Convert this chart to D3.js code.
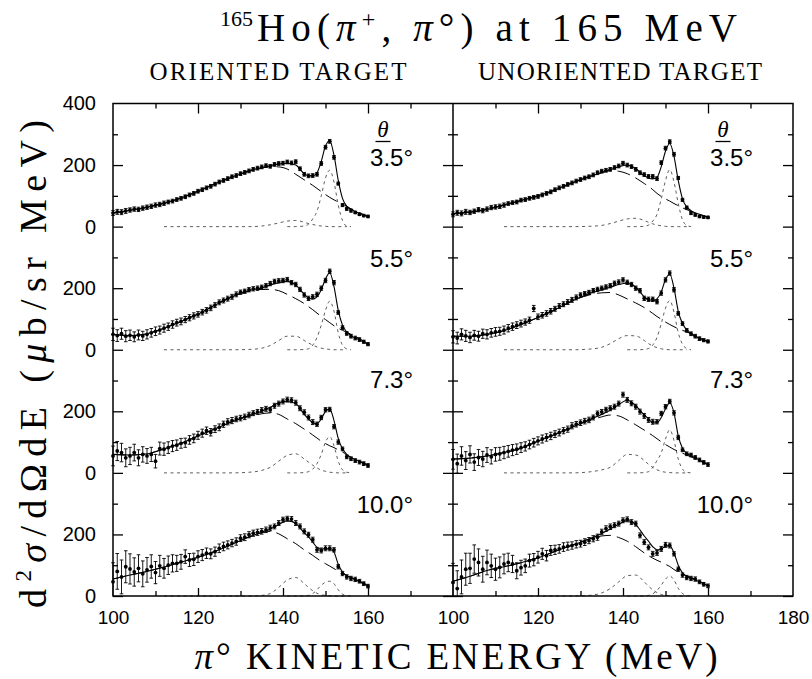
<!DOCTYPE html>
<html><head><meta charset="utf-8">
<script src="https://cdn.jsdelivr.net/npm/d3@7"></script>
<style>body{margin:0;background:#fff}</style>
</head><body>
<svg id="c" width="812" height="679" xmlns="http://www.w3.org/2000/svg"></svg>
<script>
// ---------- data ----------
const energies = [100,101,102,103,104,105,106,107,108,109,110,111,112,113,114,115,116,117,118,119,120,121,122,123,124,125,126,127,128,129,130,131,132,133,134,135,136,137,138,139,140,141,142,143,144,145,146,147,148,149,150,151,152,153,154,155,156,157,158,159,160];
const knotE = [100,104,108,112,116,120,124,128,132,135,137,139,141,143,145,146,147,148,149,150,151,152,153,154,155,156,158,160];
const angleLabels = ["3.5°","5.5°","7.3°","10.0°"];
const columnTitles = ["ORIENTED TARGET","UNORIENTED TARGET"];
const xTickMajor = [100,120,140,160,180];
const xTickMinor = [110,130,150,170];
const yTickMajor = [0,200];
const yTickMinor = [100,300];

// errors per angle (shared by both targets)
const err35 = [8,8,8,8,7,7,7,7,7,7, 7,7,7,6,6,6,6,6,6,6, 6,6,6,6,6,6,6,6,6,6, 6,6,6,6,6,6,6,6,6,6, 6,6,6,6,6,6,6,6,6,6, 6,6,6,5,5,5,5,4,4,4,4];
const err55 = [20,19,18,18,17,16,16,15,15,14, 14,13,13,12,12,11,11,10,10,10, 9,9,9,9,8,8,8,8,8,8, 7,7,7,7,7,7,7,7,7,7, 7,7,7,7,7,7,7,7,7,7, 7,7,7,6,6,6,6,6,6,5,5];
const err73 = [32,31,30,29,28,27,26,25,24,23, 22,21,20,19,18,17,16,15,14,14, 13,13,12,12,11,11,10,10,10,9, 9,9,9,8,8,8,8,8,8,8, 8,8,8,8,8,8,8,8,7,7, 7,7,7,7,6,6,6,6,6,6,6];
const err10 = [62,58,55,52,49,46,44,42,40,38, 36,34,32,30,28,26,24,22,21,20, 19,18,17,16,15,14,14,13,12,12, 11,11,10,10,10,9,9,9,8,8, 8,8,8,8,8,8,8,8,8,8, 8,8,7,7,7,7,7,7,6,6,6];

// oriented target
const dataOr35 = [44,48,47,51,54,57,56,60,63,66, 70,72,76,80,83,88,92,97,103,108, 115,120,126,131,138,145,150,156,162,166, 172,176,181,186,190,194,198,196,202,205, 206,210,207,211,188,170,165,166,170,205, 258,277,225,140,70,58,52,46,40,36,33];
const fitOr35   = [44,53,63,76,93,115,139,161,181,192,198,203,206,200,172,165,165,175,212,262,278,232,150,92,66,56,43,33];
const broadOr35 = [44,53,63,76,93,115,139,161,180,190,195,194,187,170,152,143,134,124,114,104,95,87,80,73,66,58,45,33];
const g1Or35    = [null,null,null,0,0,0,0,0,0,2,6,12,18,20,14,10,7,4,2,1,0,0,0,0,0,null,null,null];
const g2Or35    = [null,null,null,null,null,null,null,null,null,null,null,null,0,0,2,8,25,50,100,158,183,145,70,20,2,0,null,null];

const dataOr55 = [50,46,52,44,47,42,48,45,50,55, 60,64,70,75,82,88,92,98,104,110, 115,122,128,136,145,154,160,166,172,180, 187,190,195,198,200,203,208,215,222,224, 225,228,218,212,196,178,167,172,180,200, 225,255,218,121,72,53,44,38,33,26,18];
const fitOr55   = [50,46,52,70,92,116,145,172,192,201,210,218,222,210,180,168,165,172,195,230,250,205,128,80,58,46,32,18];
const broadOr55 = [50,46,52,70,92,116,145,172,190,196,196,192,180,166,150,140,130,119,108,98,88,78,70,63,57,50,36,18];
const g1Or55    = [null,null,null,0,0,0,0,0,1,5,14,30,44,44,30,22,15,9,5,3,1,0,0,0,0,null,null,null];
const g2Or55    = [null,null,null,null,null,null,null,null,null,null,null,null,0,0,1,3,15,40,80,128,158,125,55,15,3,0,null,null];

const dataOr73 = [55,71,66,49,55,66,49,60,55,60, 38,79,77,82,87,90,96,98,107,112, 122,129,137,132,142,148,158,166,170,175, 178,182,188,194,198,204,208,205,218,225, 232,238,236,228,210,197,180,165,158,180, 205,206,150,100,78,52,46,40,35,30,24];
const fitOr73   = [60,58,62,78,96,120,143,166,186,200,213,228,232,225,190,175,163,160,175,200,207,170,112,78,60,50,38,25];
const broadOr73 = [60,58,62,78,96,120,143,166,184,192,195,190,175,160,142,133,123,113,103,95,88,82,75,68,58,50,38,25];
const g1Or73    = [null,null,null,0,0,0,0,0,2,8,18,38,57,62,45,35,25,16,9,5,2,1,0,0,0,null,null,null];
const g2Or73    = [null,null,null,null,null,null,null,null,null,null,null,null,0,0,1,4,12,30,60,100,118,88,38,10,2,0,null,null];

const dataOr10 = [46,80,62,95,88,78,90,72,85,96, 76,98,90,100,106,106,111,128,117,119, 128,133,139,137,144,155,161,166,172,177, 188,191,199,204,207,210,215,221,226,237, 248,251,250,237,226,210,199,183,150,148, 155,155,150,95,73,62,57,54,48,40,32];
const fitOr10   = [55,68,80,94,110,126,145,168,192,207,218,232,245,236,205,192,175,158,152,153,152,142,103,78,66,60,47,33];
const broadOr10 = [55,68,80,94,110,126,145,168,192,205,210,202,186,170,150,141,132,122,113,105,97,89,81,74,66,60,46,33];
const g1Or10    = [null,null,null,0,0,0,0,0,0,2,8,28,52,60,40,28,17,9,4,2,1,0,0,0,0,null,null,null];
const g2Or10    = [null,null,null,null,null,null,null,null,null,null,null,null,0,0,0,2,8,20,35,45,48,40,20,6,1,0,null,null];

// unoriented target
const dataUn35 = [40,45,43,48,46,50,55,52,57,62, 64,66,70,75,78,80,86,88,92,95, 98,103,108,113,120,126,131,137,142,148, 153,158,162,168,175,180,183,186,192,197, 206,200,195,186,175,169,163,163,156,208, 255,276,235,158,87,62,44,38,33,31,30];
const fitUn35   = [42,47,56,70,85,100,119,142,162,176,185,195,200,188,165,158,155,160,195,245,270,228,150,90,64,52,40,30];
const broadUn35 = [42,47,56,70,85,100,119,142,162,175,182,180,172,158,140,131,120,108,98,90,83,75,68,61,55,50,40,30];
const g1Un35    = [null,null,null,0,0,0,0,0,1,4,10,18,25,27,20,14,9,5,3,1,0,0,0,0,0,null,null,null];
const g2Un35    = [null,null,null,null,null,null,null,null,null,null,null,null,0,0,1,5,18,40,90,150,185,145,75,22,4,0,null,null];

const dataUn55 = [42,38,50,45,40,47,44,52,50,55, 58,60,64,70,75,80,85,90,96,134, 107,112,118,125,133,142,148,155,162,170, 178,182,186,192,196,200,204,208,216,220, 227,219,212,200,192,167,164,164,156,184, 227,249,195,118,85,63,52,44,36,31,27];
const fitUn55   = [44,44,50,62,82,105,130,158,182,195,203,212,216,203,172,162,158,165,188,228,246,200,125,85,64,52,37,27];
const broadUn55 = [44,44,50,62,82,105,130,158,178,185,186,178,165,152,137,128,118,108,99,90,82,75,68,63,58,52,38,27];
const g1Un55    = [null,null,null,0,0,0,0,0,2,8,20,36,46,45,30,20,12,7,3,1,0,0,0,0,0,null,null,null];
const g2Un55    = [null,null,null,null,null,null,null,null,null,null,null,null,0,0,1,4,15,40,85,135,160,122,55,18,4,0,null,null];

const dataUn73 = [44,30,55,40,60,35,50,45,58,52, 60,62,66,70,74,77,82,86,92,98, 104,110,115,120,126,131,137,142,153,158, 163,168,172,180,193,198,205,210,215,225, 254,237,226,215,199,185,172,166,166,193, 215,232,195,115,75,62,58,50,42,34,27];
const fitUn73   = [45,48,55,66,80,103,125,148,172,190,203,222,236,218,188,176,162,163,180,208,228,195,120,80,64,56,42,27];
const broadUn73 = [45,48,55,66,80,103,125,148,170,182,188,185,172,156,139,130,121,111,101,92,84,76,70,64,58,52,40,27];
const g1Un73    = [null,null,null,0,0,0,0,0,3,10,18,40,60,58,40,28,18,10,5,2,1,0,0,0,0,null,null,null];
const g2Un73    = [null,null,null,null,null,null,null,null,null,null,null,null,0,0,1,4,18,40,65,110,140,105,45,12,2,0,null,null];

const dataUn10 = [44,24,62,87,90,120,109,87,109,98, 87,93,104,109,104,82,92,98,115,118, 126,137,131,148,150,153,159,162,164,168, 170,175,180,186,191,208,219,225,230,235, 246,249,240,235,197,175,158,137,140,153, 166,164,137,87,68,60,57,55,46,38,33];
const fitUn10   = [48,64,83,95,108,124,145,165,185,203,218,233,245,232,195,178,160,150,152,162,163,140,100,75,64,58,46,33];
const broadUn10 = [48,64,83,95,108,124,145,165,185,195,197,190,178,160,140,131,123,116,110,103,96,86,78,71,65,60,47,33];
const g1Un10    = [null,null,null,0,0,0,0,0,2,10,24,46,66,68,46,32,20,11,5,2,1,0,0,0,0,null,null,null];
const g2Un10    = [null,null,null,null,null,null,null,null,null,null,null,null,0,0,0,2,7,18,35,55,65,52,25,8,2,0,null,null];

// ---------- layout ----------
const F = {left:113, mid:453, right:793, top:103.5, bottom:596};
const rowH = (F.bottom - F.top) / 4;
const SERIF = "'Liberation Serif','DejaVu Serif',serif";
const SANS = "'Liberation Sans',Arial,sans-serif";

const panels = [
  {col:0,row:0,data:dataOr35,err:err35,fit:fitOr35,broad:broadOr35,g1:g1Or35,g2:g2Or35},
  {col:0,row:1,data:dataOr55,err:err55,fit:fitOr55,broad:broadOr55,g1:g1Or55,g2:g2Or55},
  {col:0,row:2,data:dataOr73,err:err73,fit:fitOr73,broad:broadOr73,g1:g1Or73,g2:g2Or73},
  {col:0,row:3,data:dataOr10,err:err10,fit:fitOr10,broad:broadOr10,g1:g1Or10,g2:g2Or10},
  {col:1,row:0,data:dataUn35,err:err35,fit:fitUn35,broad:broadUn35,g1:g1Un35,g2:g2Un35},
  {col:1,row:1,data:dataUn55,err:err55,fit:fitUn55,broad:broadUn55,g1:g1Un55,g2:g2Un55},
  {col:1,row:2,data:dataUn73,err:err73,fit:fitUn73,broad:broadUn73,g1:g1Un73,g2:g2Un73},
  {col:1,row:3,data:dataUn10,err:err10,fit:fitUn10,broad:broadUn10,g1:g1Un10,g2:g2Un10}
];

const svg = d3.select("#c");
const xScales = [
  d3.scaleLinear().domain([100,180]).range([F.left, F.mid]),
  d3.scaleLinear().domain([100,180]).range([F.mid, F.right])
];
const yScale = r => d3.scaleLinear().domain([0,400]).range([F.top + (r+1)*rowH, F.top + r*rowH]);

// ---------- curves and data ----------
panels.forEach(p => {
  const x = xScales[p.col], y = yScale(p.row);
  const g = svg.append("g");
  const line = d3.line().defined(d => d[1] != null)
    .x(d => x(d[0])).y(d => y(d[1])).curve(d3.curveMonotoneX);
  const pairs = arr => knotE.map((e,i) => [e, arr[i]]);
  [p.g1, p.g2].forEach(arr => {
    g.append("path").attr("d", line(pairs(arr)))
      .attr("fill","none").attr("stroke","#333").attr("stroke-width",0.8)
      .attr("stroke-dasharray","3,3.5");
  });
  g.append("path").attr("d", line(pairs(p.broad)))
    .attr("fill","none").attr("stroke","#000").attr("stroke-width",1)
    .attr("stroke-dasharray","13,6");
  g.append("path").attr("d", line(pairs(p.fit)))
    .attr("fill","none").attr("stroke","#000").attr("stroke-width",1.1);
  const pts = energies.map((e,i) => ({e, v:p.data[i], s:p.err[i]}));
  const eb = g.append("g").attr("stroke","#000").attr("stroke-width",0.9);
  eb.selectAll("line.v").data(pts).join("line")
    .attr("x1", d => x(d.e)).attr("x2", d => x(d.e))
    .attr("y1", d => Math.min(y(d.v - d.s), F.bottom)).attr("y2", d => y(d.v + d.s));
  eb.selectAll("line.t").data(pts).join("line")
    .attr("x1", d => x(d.e) - 1.8).attr("x2", d => x(d.e) + 1.8)
    .attr("y1", d => y(d.v + d.s)).attr("y2", d => y(d.v + d.s));
  eb.selectAll("line.b").data(pts.filter(d => y(d.v - d.s) < F.bottom)).join("line")
    .attr("x1", d => x(d.e) - 1.8).attr("x2", d => x(d.e) + 1.8)
    .attr("y1", d => y(d.v - d.s)).attr("y2", d => y(d.v - d.s));
  g.selectAll("circle").data(pts).join("circle")
    .attr("cx", d => x(d.e)).attr("cy", d => y(d.v)).attr("r", 1.9).attr("fill","#000");
});

// ---------- frame ----------
svg.append("rect").attr("x",F.left).attr("y",F.top)
  .attr("width",F.right-F.left).attr("height",F.bottom-F.top)
  .attr("fill","none").attr("stroke","#000").attr("stroke-width",1.5);
svg.append("line").attr("x1",F.mid).attr("x2",F.mid).attr("y1",F.top).attr("y2",F.bottom)
  .attr("stroke","#000").attr("stroke-width",1.5);

function tickAxis(axis, tx, ty) {
  const g = svg.append("g").attr("transform",`translate(${tx},${ty})`).call(axis);
  g.select(".domain").remove();
  g.selectAll("line").attr("stroke","#000").attr("stroke-width",1.3);
  return g;
}
function labelAxis(axis, tx, ty, size) {
  const g = svg.append("g").attr("transform",`translate(${tx},${ty})`).call(axis);
  g.select(".domain").remove();
  g.selectAll("line").remove();
  g.attr("font-family", SANS).attr("font-size", size);
  g.selectAll("text").attr("fill","#000");
  return g;
}

// y ticks per row
for (let r = 0; r < 4; r++) {
  const y = yScale(r);
  tickAxis(d3.axisRight(y).tickValues(yTickMajor).tickSize(10).tickFormat(""), F.left, 0);
  tickAxis(d3.axisRight(y).tickValues(yTickMinor).tickSize(5).tickFormat(""), F.left, 0);
  tickAxis(d3.axisLeft(y).tickValues(yTickMajor).tickSize(10).tickFormat(""), F.mid, 0);
  tickAxis(d3.axisRight(y).tickValues(yTickMajor).tickSize(10).tickFormat(""), F.mid, 0);
  tickAxis(d3.axisLeft(y).tickValues(yTickMinor).tickSize(5).tickFormat(""), F.mid, 0);
  tickAxis(d3.axisRight(y).tickValues(yTickMinor).tickSize(5).tickFormat(""), F.mid, 0);
  tickAxis(d3.axisLeft(y).tickValues(yTickMajor).tickSize(10).tickFormat(""), F.right, 0);
  tickAxis(d3.axisLeft(y).tickValues(yTickMinor).tickSize(5).tickFormat(""), F.right, 0);
  labelAxis(d3.axisLeft(y).tickValues(r === 0 ? [0,200,400] : yTickMajor).tickSize(0).tickPadding(17), F.left, 0, 20);
}

// x ticks per column
xScales.forEach((x, c) => {
  const inner = xTickMajor.filter(v => v > 100 && v < 180);
  tickAxis(d3.axisTop(x).tickValues(inner).tickSize(8).tickFormat(""), 0, F.bottom);
  tickAxis(d3.axisTop(x).tickValues(xTickMinor).tickSize(5).tickFormat(""), 0, F.bottom);
  tickAxis(d3.axisBottom(x).tickValues(inner).tickSize(10).tickFormat(""), 0, F.top);
  tickAxis(d3.axisBottom(x).tickValues(xTickMinor).tickSize(5).tickFormat(""), 0, F.top);
  const labs = c === 0 ? xTickMajor.filter(v => v < 180) : xTickMajor;
  labelAxis(d3.axisBottom(x).tickValues(labs).tickSize(0).tickPadding(15), 0, F.bottom, 19);
});

// ---------- panel labels ----------
const labelOffset = [62, 40, 38, 40];
[0,1].forEach(c => {
  const xr = c === 0 ? 413 : 753;
  angleLabels.forEach((t, r) => {
    svg.append("text").attr("x", xr).attr("y", F.top + r*rowH + labelOffset[r])
      .attr("text-anchor","end").attr("font-family",SANS).attr("font-size",24)
      .text(t);
  });
  const tx = c === 0 ? 383 : 723;
  svg.append("text").attr("x", tx).attr("y", 137).attr("text-anchor","middle")
    .attr("font-family",SERIF).attr("font-style","italic").attr("font-size",23).text("θ");
  svg.append("line").attr("x1", tx-7.5).attr("x2", tx+7.5).attr("y1",141.5).attr("y2",141.5)
    .attr("stroke","#000").attr("stroke-width",1.3);
  svg.append("text").attr("x", c === 0 ? 278 : 620).attr("y", 80).attr("text-anchor","middle")
    .attr("font-family",SERIF).attr("font-size",25)
    .attr("textLength", c === 0 ? 257 : 284).attr("lengthAdjust","spacing")
    .text(columnTitles[c]);
});

// ---------- titles ----------
svg.append("text").attr("x",220).attr("y",26).attr("font-family",SERIF).attr("font-size",22).text("165");
const title = svg.append("text").attr("x",257).attr("y",41)
  .attr("font-family",SERIF).attr("font-size",39)
  .attr("textLength",480).attr("lengthAdjust","spacing");
title.append("tspan").text("Ho(");
title.append("tspan").attr("font-style","italic").text("π");
title.append("tspan").attr("font-size",24).attr("dy",-14).text("+");
title.append("tspan").attr("dy",14).text(", ");
title.append("tspan").attr("font-style","italic").text("π");
title.append("tspan").text("°) at 165 MeV");

const xt = svg.append("text").attr("x",456).attr("y",669).attr("text-anchor","middle")
  .attr("font-family",SERIF).attr("font-size",37)
  .attr("textLength",523).attr("lengthAdjust","spacing");
xt.append("tspan").attr("font-style","italic").text("π");
xt.append("tspan").text("° KINETIC ENERGY (MeV)");

const yt = svg.append("text").attr("transform","translate(46,364) rotate(-90)")
  .attr("text-anchor","middle").attr("font-family",SERIF).attr("font-size",38)
  .attr("textLength",488).attr("lengthAdjust","spacing");
yt.append("tspan").text("d");
yt.append("tspan").attr("font-size",23).attr("dy",-15).text("2");
yt.append("tspan").attr("dy",15).attr("font-style","italic").text("σ");
yt.append("tspan").text("/dΩdE (");
yt.append("tspan").attr("font-style","italic").text("μ");
yt.append("tspan").text("b/sr MeV)");
</script>
</body></html>
